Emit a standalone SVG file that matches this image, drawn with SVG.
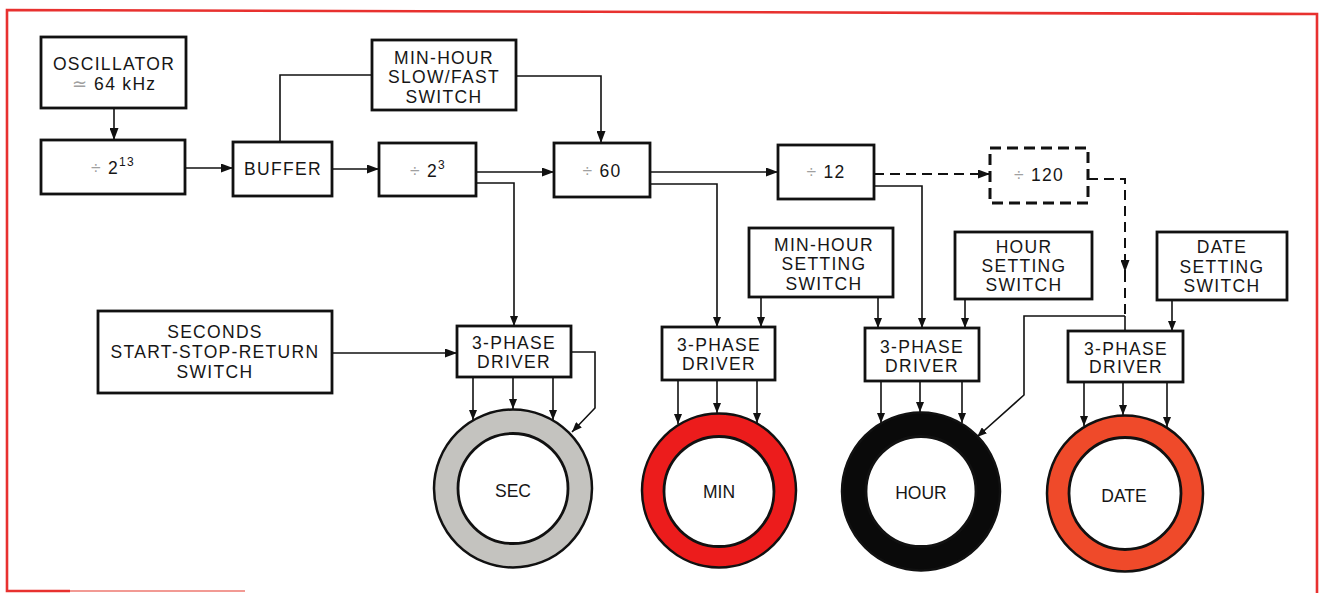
<svg xmlns="http://www.w3.org/2000/svg" width="1324" height="593" viewBox="0 0 1324 593">
<style>
.box{fill:#fff;stroke:#111;stroke-width:2.8}
.dbox{fill:#fff;stroke:#111;stroke-width:3;stroke-dasharray:11 6}
.t{font-family:"Liberation Sans",Arial,Helvetica,sans-serif;font-size:17.5px;fill:#161616;text-anchor:middle;letter-spacing:1.3px}
.rl{font-family:"Liberation Sans",Arial,Helvetica,sans-serif;font-size:17.5px;fill:#161616;text-anchor:middle}
.dv{fill:#a0a0a0}
.c{fill:none;stroke:#111;stroke-width:1.6}
.cd{fill:none;stroke:#111;stroke-width:2;stroke-dasharray:10 6}
.ringo{stroke:#111;stroke-width:2.5}
.ringi{fill:#fff;stroke:#111;stroke-width:2.8}
.frame{fill:none;stroke:#e8312f;stroke-width:2.6}
</style>
<defs>
<marker id="ah" viewBox="0 0 12 9" refX="12" refY="4.5" markerWidth="12" markerHeight="9" markerUnits="userSpaceOnUse" orient="auto"><path d="M0,0 L12,4.5 L0,9 z" fill="#111"/></marker>
<marker id="as" viewBox="0 0 10 8" refX="10" refY="4" markerWidth="10" markerHeight="8" markerUnits="userSpaceOnUse" orient="auto"><path d="M0,0 L10,4 L0,8 z" fill="#111"/></marker>
</defs>
<rect width="1324" height="593" fill="#fff"/>
<g id="frame">
<path class="frame" d="M70,591 H7 V10 L1317,14 V593"/>
<path d="M70,591 H245" fill="none" stroke="#f29a94" stroke-width="2"/>
</g>
<g id="connectors">
<path class="c" marker-end="url(#ah)" d="M114,108 V140"/>
<path class="c" marker-end="url(#ah)" d="M185,168 H233"/>
<path class="c" d="M280,142 V75 H372"/>
<path class="c" marker-end="url(#ah)" d="M332,169 H379"/>
<path class="c" marker-end="url(#ah)" d="M516,76 H601 V143"/>
<path class="c" marker-end="url(#ah)" d="M476,172 H554"/>
<path class="c" marker-end="url(#as)" d="M476,183 H514 V326"/>
<path class="c" marker-end="url(#ah)" d="M650,172 H778"/>
<path class="c" marker-end="url(#as)" d="M650,184 H717 V327"/>
<path class="cd" marker-end="url(#ah)" d="M874,174 H990"/>
<path class="c" marker-end="url(#as)" d="M874,186 H922 V328"/>
<path class="cd" marker-end="url(#ah)" d="M1088,179 H1125 V272"/>
<path class="cd" d="M1125,272 V316"/>
<path class="c" d="M1125,316 V331"/>
<path class="c" marker-end="url(#as)" d="M1125,316 H1024 V395 L977,437"/>
<path class="c" marker-end="url(#as)" d="M761,297 V327"/>
<path class="c" marker-end="url(#as)" d="M878,297 V328"/>
<path class="c" marker-end="url(#as)" d="M965,299 V328"/>
<path class="c" marker-end="url(#as)" d="M1172,300 V331"/>
<path class="c" marker-end="url(#ah)" d="M332,353 H457"/>
<path class="c" marker-end="url(#as)" d="M473,377 V420"/>
<path class="c" marker-end="url(#as)" d="M513,377 V409"/>
<path class="c" marker-end="url(#as)" d="M553,377 V420"/>
<path class="c" marker-end="url(#as)" d="M571,352 H595 V408 L572,432"/>
<path class="c" marker-end="url(#as)" d="M678,380 V424"/>
<path class="c" marker-end="url(#as)" d="M717,380 V413"/>
<path class="c" marker-end="url(#as)" d="M757,380 V423"/>
<path class="c" marker-end="url(#as)" d="M881,381 V423"/>
<path class="c" marker-end="url(#as)" d="M920,381 V412"/>
<path class="c" marker-end="url(#as)" d="M962,381 V423"/>
<path class="c" marker-end="url(#as)" d="M1084,382 V426"/>
<path class="c" marker-end="url(#as)" d="M1123,382 V415"/>
<path class="c" marker-end="url(#as)" d="M1167,382 V427"/>
</g>
<g id="osc">
<rect class="box" x="41" y="37" width="145" height="71"/>
<text class="t" x="114" y="70">OSCILLATOR</text>
<text class="t" x="114" y="90"><tspan class="dv">≃</tspan> 64 kHz</text>
</g>
<g id="div13">
<rect class="box" x="41" y="140" width="144" height="54"/>
<text class="t" x="113" y="174"><tspan class="dv">÷</tspan> 2<tspan font-size="12" dy="-8">13</tspan></text>
</g>
<g id="buffer">
<rect class="box" x="233" y="142" width="99" height="54"/>
<text class="t" x="283" y="175">BUFFER</text>
</g>
<g id="slowfast">
<rect class="box" x="372" y="40" width="144" height="70"/>
<text class="t" x="444" y="64">MIN-HOUR</text>
<text class="t" x="444" y="83">SLOW/FAST</text>
<text class="t" x="444" y="103">SWITCH</text>
</g>
<g id="div3">
<rect class="box" x="379" y="143" width="97" height="53"/>
<text class="t" x="428" y="177"><tspan class="dv">÷</tspan> 2<tspan font-size="12" dy="-8">3</tspan></text>
</g>
<g id="div60">
<rect class="box" x="554" y="143" width="96" height="54"/>
<text class="t" x="602" y="177"><tspan class="dv">÷</tspan> 60</text>
</g>
<g id="div12">
<rect class="box" x="778" y="145" width="96" height="54"/>
<text class="t" x="826" y="178"><tspan class="dv">÷</tspan> 12</text>
</g>
<g id="div120">
<rect class="dbox" x="990" y="148" width="98" height="55"/>
<text class="t" x="1039" y="181"><tspan class="dv">÷</tspan> 120</text>
</g>
<g id="mhset">
<rect class="box" x="749" y="228" width="144" height="69"/>
<text class="t" x="824" y="251">MIN-HOUR</text>
<text class="t" x="824" y="270">SETTING</text>
<text class="t" x="824" y="290">SWITCH</text>
</g>
<g id="hset">
<rect class="box" x="955" y="232" width="137" height="67"/>
<text class="t" x="1024" y="253">HOUR</text>
<text class="t" x="1024" y="272">SETTING</text>
<text class="t" x="1024" y="291">SWITCH</text>
</g>
<g id="dset">
<rect class="box" x="1157" y="232" width="130" height="68"/>
<text class="t" x="1222" y="253">DATE</text>
<text class="t" x="1222" y="273">SETTING</text>
<text class="t" x="1222" y="292">SWITCH</text>
</g>
<g id="secsw">
<rect class="box" x="98" y="311" width="234" height="82"/>
<text class="t" x="215" y="338">SECONDS</text>
<text class="t" x="215" y="358">START-STOP-RETURN</text>
<text class="t" x="215" y="378">SWITCH</text>
</g>
<g id="drv_sec">
<rect class="box" x="457" y="326" width="114" height="51"/>
<text class="t" x="514" y="349">3-PHASE</text>
<text class="t" x="514" y="368">DRIVER</text>
</g>
<g id="drv_min">
<rect class="box" x="662" y="327" width="113" height="53"/>
<text class="t" x="719" y="351">3-PHASE</text>
<text class="t" x="719" y="370">DRIVER</text>
</g>
<g id="drv_hour">
<rect class="box" x="865" y="328" width="114" height="53"/>
<text class="t" x="922" y="353">3-PHASE</text>
<text class="t" x="922" y="372">DRIVER</text>
</g>
<g id="drv_date">
<rect class="box" x="1068" y="331" width="115" height="51"/>
<text class="t" x="1126" y="355">3-PHASE</text>
<text class="t" x="1126" y="373">DRIVER</text>
</g>
<g id="ring_sec">
<circle class="ringo" cx="513" cy="488.5" r="79" fill="#c4c3bf"/>
<circle class="ringi" cx="513" cy="488.5" r="55"/>
<text class="rl" x="513" y="497">SEC</text>
</g>
<g id="ring_min">
<circle class="ringo" cx="719" cy="490.5" r="77" fill="#ec1c1c"/>
<circle class="ringi" cx="719" cy="491.5" r="55"/>
<text class="rl" x="719" y="498">MIN</text>
</g>
<g id="ring_hour">
<circle class="ringo" cx="921" cy="491.5" r="79" fill="#0a0a0a"/>
<circle class="ringi" cx="921" cy="491.5" r="55"/>
<text class="rl" x="921" y="499">HOUR</text>
</g>
<g id="ring_date">
<circle class="ringo" cx="1125" cy="493.5" r="78" fill="#ef4a2a"/>
<circle class="ringi" cx="1125" cy="493.5" r="56"/>
<text class="rl" x="1124" y="502">DATE</text>
</g>
</svg>
